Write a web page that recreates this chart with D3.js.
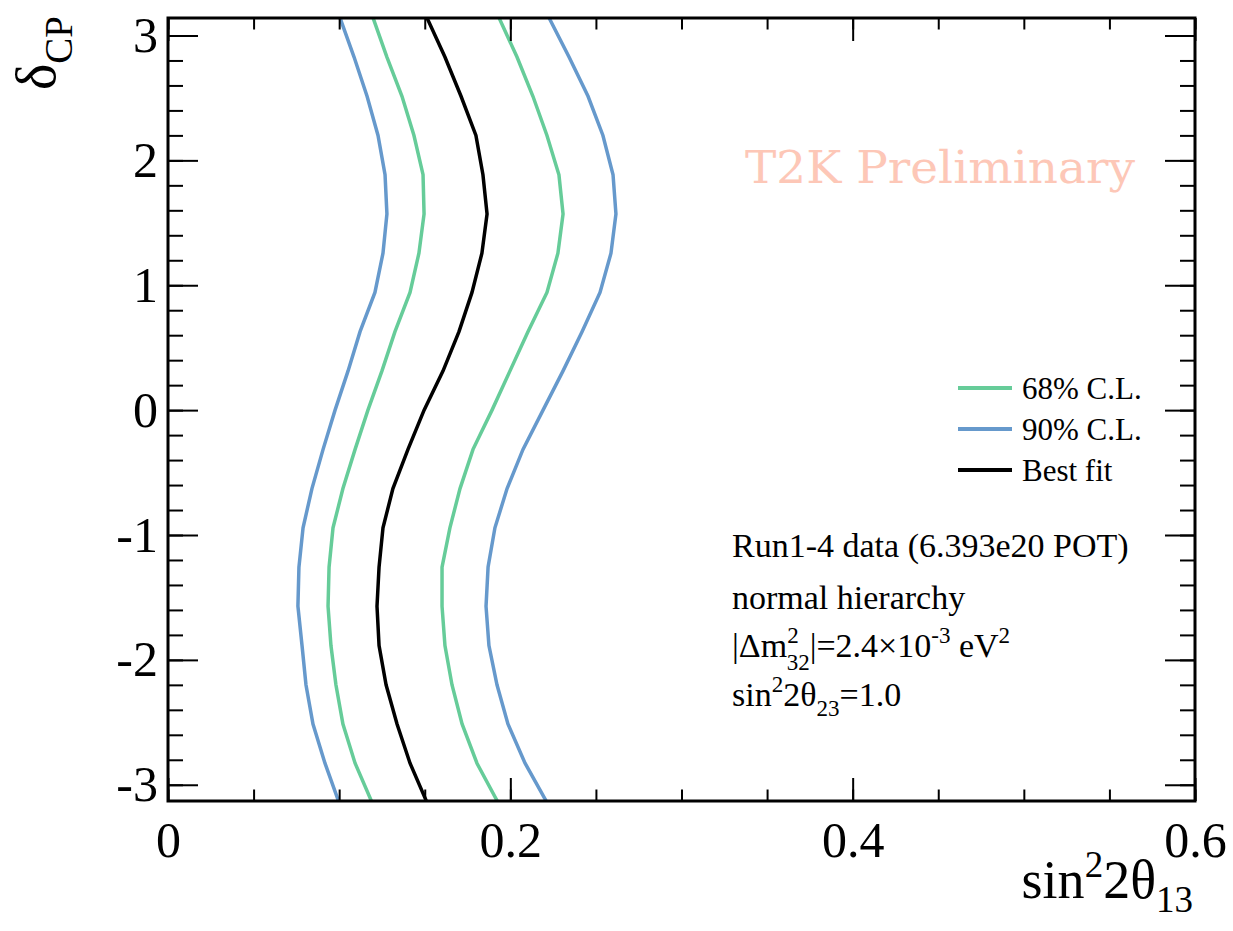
<!DOCTYPE html>
<html>
<head>
<meta charset="utf-8">
<script src="https://cdn.jsdelivr.net/npm/d3@7"></script>
<style>
  body { margin: 0; background: #fff; }
  svg { display: block; font-family: "Liberation Serif", "Times New Roman", serif; }
  .axis path { display: none; }
  .axis line { stroke: #000; stroke-width: 2; }
  .axis text { font-family: "Liberation Serif", serif; font-size: 50px; fill: #000; }
</style>
</head>
<body>
<div class="chart"></div>
<script>
// delta_CP grid (multiples of pi/10)
const delta = [-3.1416, -2.8274, -2.5133, -2.1991, -1.885, -1.5708, -1.2566, -0.9425, -0.6283, -0.3142, 0,
               0.3142, 0.6283, 0.9425, 1.2566, 1.5708, 1.885, 2.1991, 2.5133, 2.8274, 3.1416]

// sin^2 2theta13 values along each contour edge
const cl90Left  = [0.0999, 0.0917, 0.0847, 0.0806, 0.0783, 0.0759, 0.0765, 0.0789, 0.0841, 0.0906, 0.0976,
                   0.1052, 0.1122, 0.1209, 0.1256, 0.1279, 0.1268, 0.1227, 0.1163, 0.1087, 0.1005]
const cl68Left  = [0.1192, 0.1093, 0.1022, 0.0981, 0.0952, 0.0935, 0.0941, 0.0964, 0.1022, 0.1093, 0.1168,
                   0.1250, 0.1326, 0.1414, 0.1466, 0.1496, 0.1490, 0.1437, 0.1367, 0.1279, 0.1198]
const bestFit   = [0.1513, 0.1414, 0.1338, 0.1274, 0.1233, 0.1221, 0.1233, 0.1256, 0.1314, 0.1402, 0.1496,
                   0.1607, 0.1700, 0.1776, 0.1834, 0.1864, 0.1840, 0.1799, 0.1712, 0.1618, 0.1513]
const cl68Right = [0.1928, 0.1805, 0.1718, 0.1659, 0.1618, 0.1601, 0.1601, 0.1647, 0.1706, 0.1782, 0.1893,
                   0.1998, 0.2103, 0.2214, 0.2278, 0.2308, 0.2284, 0.2214, 0.2132, 0.2039, 0.1934]
const cl90Right = [0.2214, 0.2086, 0.1986, 0.1922, 0.1875, 0.1858, 0.1870, 0.1910, 0.1981, 0.2074, 0.2191,
                   0.2308, 0.2419, 0.2524, 0.2588, 0.2617, 0.2600, 0.2541, 0.2454, 0.2343, 0.2226]

const xTicks = [0, 0.2, 0.4, 0.6]
const yTicks = [-3, -2, -1, 0, 1, 2, 3]
const legendLabels = ["68% C.L.", "90% C.L.", "Best fit"]

const col68 = "#66cc99", col90 = "#6699cc", colBest = "#000000"

const W = 1233, H = 931
const margin = {top: 18, right: 38, bottom: 130, left: 168}
const width = W - margin.left - margin.right
const height = H - margin.top - margin.bottom

const svg = d3.select('.chart').append('svg')
    .attr("width", W)
    .attr("height", H)

const g = svg.append("g")
    .attr("transform", `translate(${margin.left},${margin.top})`)

const xScale = d3.scaleLinear().domain([0, 0.6]).range([0, width])
const yScale = d3.scaleLinear().domain([-3.13, 3.14]).range([height, 0])

g.append("clipPath").attr("id", "clip")
  .append("rect").attr("width", width).attr("height", height)

// watermark
g.append("text")
    .attr("x", 577).attr("y", 165)
    .attr("textLength", 390).attr("lengthAdjust", "spacingAndGlyphs")
    .style("font-family", "'DejaVu Serif', serif")
    .style("font-size", "44px")
    .style("fill", "#fdc7b7")
    .text("T2K Preliminary")

// curves
const line = d3.line()
    .x(d => xScale(d[0]))
    .y(d => yScale(d[1]))

const curves = [
  {vals: cl90Left, color: col90}, {vals: cl90Right, color: col90},
  {vals: cl68Left, color: col68}, {vals: cl68Right, color: col68},
  {vals: bestFit, color: colBest}
]
g.append("g").attr("clip-path", "url(#clip)")
  .selectAll("path")
  .data(curves)
  .join("path")
    .attr("d", c => line(c.vals.map((v, i) => [v, delta[i]])))
    .attr("fill", "none")
    .attr("stroke", c => c.color)
    .attr("stroke-width", 3.5)

// axes - major and minor ticks on all four sides
const fmt = d => String(d)
const xMinor = d3.range(0, 0.6001, 0.05)
const yMinor = d3.range(-3, 3.01, 0.2)

g.append("g").attr("class", "axis")
    .attr("transform", `translate(0,${height})`)
    .call(d3.axisBottom(xScale).tickValues(xMinor).tickSize(-11.5).tickFormat(""))
g.append("g").attr("class", "axis")
    .attr("transform", `translate(0,${height})`)
    .call(d3.axisBottom(xScale).tickValues(xTicks).tickSize(-23).tickPadding(20).tickFormat(fmt))
g.append("g").attr("class", "axis")
    .call(d3.axisTop(xScale).tickValues(xMinor).tickSize(-11.5).tickFormat(""))
g.append("g").attr("class", "axis")
    .call(d3.axisTop(xScale).tickValues(xTicks).tickSize(-23).tickFormat(""))

g.append("g").attr("class", "axis")
    .call(d3.axisLeft(yScale).tickValues(yMinor).tickSize(-15).tickFormat(""))
g.append("g").attr("class", "axis")
    .call(d3.axisLeft(yScale).tickValues(yTicks).tickSize(-30).tickPadding(10).tickFormat(fmt))
g.append("g").attr("class", "axis")
    .attr("transform", `translate(${width},0)`)
    .call(d3.axisRight(yScale).tickValues(yMinor).tickSize(-15).tickFormat(""))
g.append("g").attr("class", "axis")
    .attr("transform", `translate(${width},0)`)
    .call(d3.axisRight(yScale).tickValues(yTicks).tickSize(-30).tickFormat(""))

// frame
g.append("rect")
    .attr("width", width).attr("height", height)
    .attr("fill", "none").attr("stroke", "#000").attr("stroke-width", 3)

// axis titles
const xt = svg.append("text")
    .attr("x", 1193).attr("y", 898)
    .attr("text-anchor", "end")
    .style("font-size", "54px")
xt.append("tspan").text("sin")
xt.append("tspan").attr("dy", -21).style("font-size", "37px").text("2")
xt.append("tspan").attr("dy", 21).text("2θ")
xt.append("tspan").attr("dy", 14).style("font-size", "37px").text("13")

const yt = svg.append("text")
    .attr("transform", "translate(55,16) rotate(-90)")
    .attr("text-anchor", "end")
    .style("font-size", "56px")
yt.append("tspan").text("δ")
yt.append("tspan").attr("dy", 17).style("font-size", "39px").text("CP")

// legend
const legend = g.append("g").attr("transform", "translate(790,370)")
legendLabels.forEach((lab, i) => {
  const row = legend.append("g").attr("transform", `translate(0,${i * 41})`)
  row.append("line")
      .attr("x1", 0).attr("x2", 54)
      .attr("stroke", [col68, col90, colBest][i])
      .attr("stroke-width", 4)
  row.append("text")
      .attr("x", 64).attr("y", 11)
      .style("font-size", "31px")
      .text(lab)
})

// info text
const info = g.append("g").attr("transform", "translate(564,0)").style("font-size", "34px")
info.append("text").attr("y", 539).text("Run1-4 data (6.393e20 POT)")
info.append("text").attr("y", 591).text("normal hierarchy")
const dm = info.append("text").attr("y", 639)
dm.append("tspan").text("|Δm")
dm.append("tspan").attr("dy", -14).style("font-size", "23px").text("2")
dm.append("tspan").attr("dx", -12).attr("dy", 27).style("font-size", "23px").text("32")
dm.append("tspan").attr("dy", -13).text("|=2.4×10")
dm.append("tspan").attr("dy", -14).style("font-size", "23px").text("-3")
dm.append("tspan").attr("dy", 14).text(" eV")
dm.append("tspan").attr("dy", -14).style("font-size", "23px").text("2")
const s23 = info.append("text").attr("y", 688)
s23.append("tspan").text("sin")
s23.append("tspan").attr("dy", -14).style("font-size", "23px").text("2")
s23.append("tspan").attr("dy", 14).text("2θ")
s23.append("tspan").attr("dy", 10).style("font-size", "23px").text("23")
s23.append("tspan").attr("dy", -10).text("=1.0")
</script>
</body>
</html>
